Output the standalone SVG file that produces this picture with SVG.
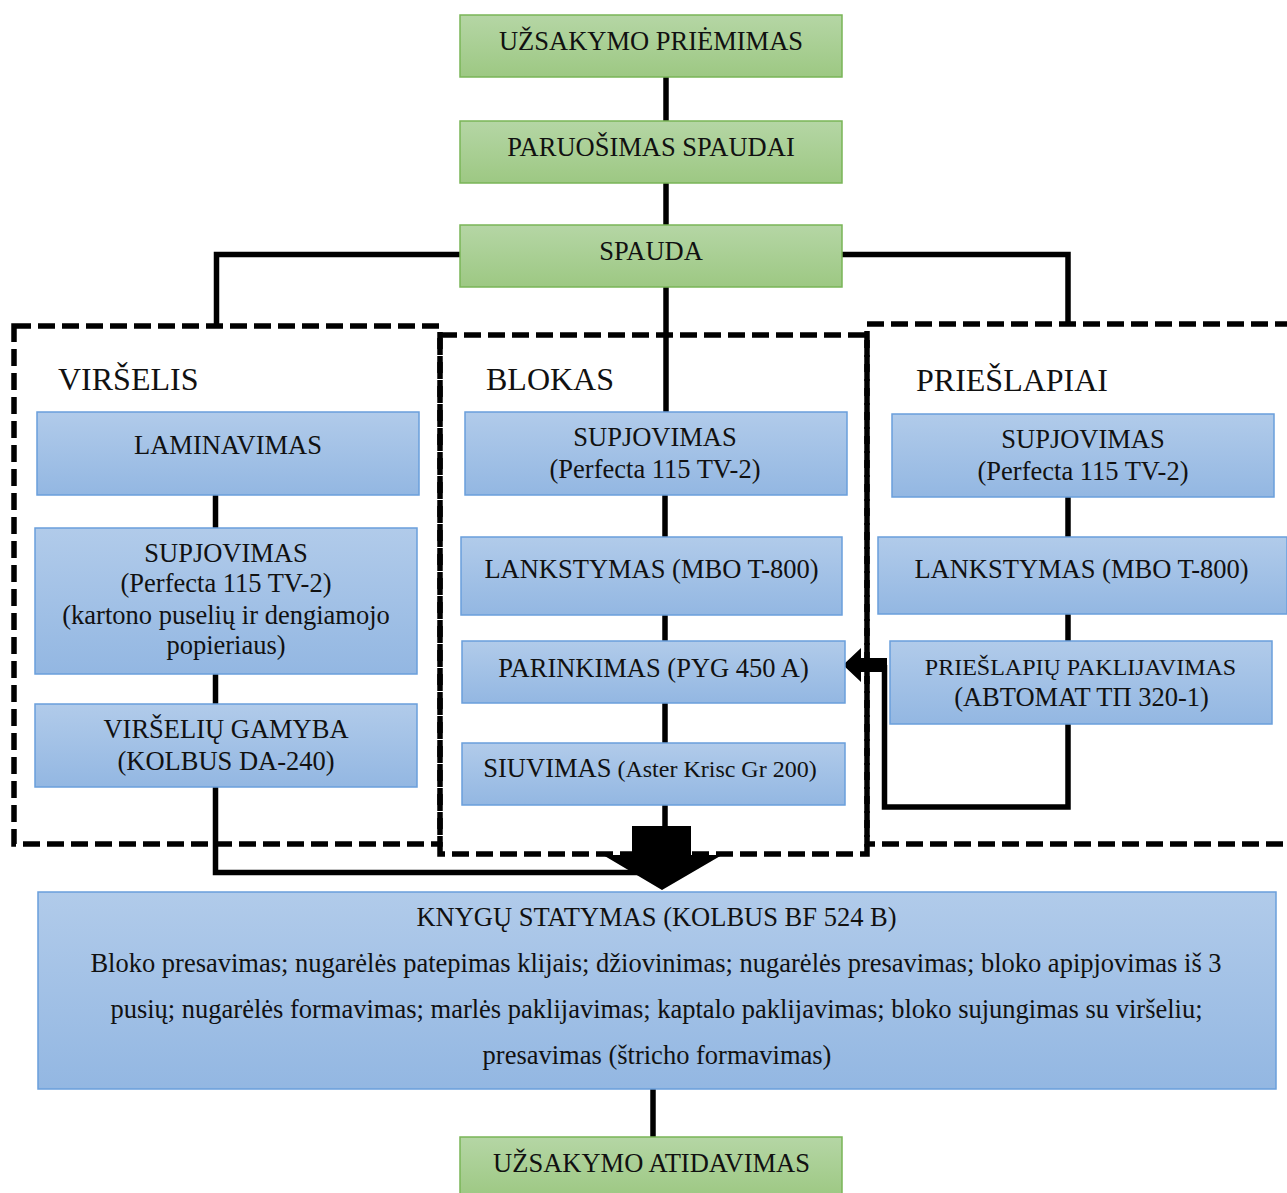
<svg xmlns="http://www.w3.org/2000/svg" width="1287" height="1193" viewBox="0 0 1287 1193">
<defs>
<linearGradient id="gGreen" x1="0" y1="0" x2="0" y2="1">
<stop offset="0" stop-color="#b5d6a5"/>
<stop offset="1" stop-color="#9dc883"/>
</linearGradient>
<linearGradient id="gBlue" x1="0" y1="0" x2="0" y2="1">
<stop offset="0" stop-color="#b1cbea"/>
<stop offset="1" stop-color="#93b7e2"/>
</linearGradient>
<style>
.green{fill:url(#gGreen);stroke:#79b557;stroke-width:1.5}
.blue{fill:url(#gBlue);stroke:#6a9fdb;stroke-width:1.5}
.dash{fill:none;stroke:#000;stroke-width:5.5;stroke-dasharray:17 7}
.conn{fill:none;stroke:#000;stroke-width:5.5;stroke-linejoin:miter}
.arrow{fill:#000;stroke:none}
text{font-family:"Liberation Serif","Times New Roman",serif;font-size:26.5px;fill:#111;text-anchor:middle}
.title{text-anchor:start;font-size:32px}
.sm{font-size:24px}
</style>
</defs>

<g id="groups">
<rect id="grp-virselis" class="dash" x="14" y="326" width="426" height="518"/>
<rect id="grp-blokas" class="dash" x="440" y="335" width="427" height="519"/>
<rect id="grp-prieslapiai" class="dash" x="867" y="324" width="440" height="520"/>
</g>

<g id="connectors">
<line class="conn" x1="666" y1="77" x2="666" y2="121"/>
<line class="conn" x1="666" y1="183" x2="666" y2="225"/>
<line class="conn" x1="666" y1="287" x2="666" y2="412"/>
<polyline class="conn" points="460,254.5 216.5,254.5 216.5,326"/>
<polyline class="conn" points="842,254.5 1068,254.5 1068,324"/>
<line class="conn" x1="215.5" y1="495" x2="215.5" y2="528"/>
<line class="conn" x1="215.5" y1="674" x2="215.5" y2="704"/>
<polyline class="conn" points="215.5,787 215.5,872.5 640,872.5"/>
<line class="conn" x1="665" y1="495" x2="665" y2="537"/>
<line class="conn" x1="665" y1="615" x2="665" y2="641"/>
<line class="conn" x1="665" y1="703" x2="665" y2="743"/>
<line class="conn" x1="665" y1="805" x2="665" y2="828"/>
<line class="conn" x1="1068" y1="497" x2="1068" y2="537"/>
<line class="conn" x1="1068" y1="614" x2="1068" y2="641"/>
<polyline class="conn" points="1068,724 1068,807 884.5,807 884.5,665"/>
<polygon class="arrow" points="843,665 861,648 861,658 887,658 887,672 861,672 861,682"/>
<polygon class="arrow" points="632,826 691,826 691,855 722,855 662,890 603,855 632,855"/>
<line class="conn" x1="653" y1="1089" x2="653" y2="1137"/>
</g>

<g id="n-priemimas">
<rect class="green" x="460" y="15" width="382" height="62"/>
<text x="651" y="50">UŽSAKYMO PRIĖMIMAS</text>
</g>
<g id="n-paruosimas">
<rect class="green" x="460" y="121" width="382" height="62"/>
<text x="651" y="156">PARUOŠIMAS SPAUDAI</text>
</g>
<g id="n-spauda">
<rect class="green" x="460" y="225" width="382" height="62"/>
<text x="651" y="260">SPAUDA</text>
</g>

<g id="t-virselis"><text class="title" x="58" y="390">VIRŠELIS</text></g>
<g id="t-blokas"><text class="title" x="486" y="390">BLOKAS</text></g>
<g id="t-prieslapiai"><text class="title" x="916" y="391">PRIEŠLAPIAI</text></g>

<g id="n-laminavimas">
<rect class="blue" x="37" y="412" width="382" height="83"/>
<text x="228" y="454">LAMINAVIMAS</text>
</g>
<g id="n-v-supjovimas">
<rect class="blue" x="35" y="528" width="382" height="146"/>
<text x="226" y="562">SUPJOVIMAS</text>
<text x="226" y="592">(Perfecta 115 TV-2)</text>
<text x="226" y="624">(kartono puselių ir dengiamojo</text>
<text x="226" y="654">popieriaus)</text>
</g>
<g id="n-virseliu-gamyba">
<rect class="blue" x="35" y="704" width="382" height="83"/>
<text x="226" y="738">VIRŠELIŲ GAMYBA</text>
<text x="226" y="770">(KOLBUS DA-240)</text>
</g>

<g id="n-b-supjovimas">
<rect class="blue" x="465" y="412" width="382" height="83"/>
<text x="655" y="446">SUPJOVIMAS</text>
<text x="655" y="478">(Perfecta 115 TV-2)</text>
</g>
<g id="n-b-lankstymas">
<rect class="blue" x="461" y="537" width="381" height="78"/>
<text x="651.5" y="578">LANKSTYMAS (MBO T-800)</text>
</g>
<g id="n-parinkimas">
<rect class="blue" x="462" y="641" width="383" height="62"/>
<text x="653.5" y="677">PARINKIMAS (PYG 450 A)</text>
</g>
<g id="n-siuvimas">
<rect class="blue" x="462" y="743" width="383" height="62"/>
<text x="650" y="777">SIUVIMAS<tspan class="sm"> (Aster Krisc Gr 200)</tspan></text>
</g>

<g id="n-p-supjovimas">
<rect class="blue" x="892" y="414" width="382" height="83"/>
<text x="1083" y="448">SUPJOVIMAS</text>
<text x="1083" y="480">(Perfecta 115 TV-2)</text>
</g>
<g id="n-p-lankstymas">
<rect class="blue" x="878" y="537" width="409" height="77"/>
<text x="1081.5" y="578">LANKSTYMAS (MBO T-800)</text>
</g>
<g id="n-paklijavimas">
<rect class="blue" x="890" y="641" width="382" height="83"/>
<text class="sm" x="1080.5" y="675">PRIEŠLAPIŲ PAKLIJAVIMAS</text>
<text x="1081.5" y="706">(ABTOMAT TП 320-1)</text>
</g>

<g id="n-knygu-statymas">
<rect class="blue" x="38" y="892" width="1238" height="197"/>
<text x="656.5" y="926">KNYGŲ STATYMAS (KOLBUS BF 524 B)</text>
<text x="656" y="972">Bloko presavimas; nugarėlės patepimas klijais; džiovinimas; nugarėlės presavimas; bloko apipjovimas iš 3</text>
<text x="656.5" y="1018">pusių; nugarėlės formavimas; marlės paklijavimas; kaptalo paklijavimas; bloko sujungimas su viršeliu;</text>
<text x="657" y="1064">presavimas (štricho formavimas)</text>
</g>

<g id="n-atidavimas">
<rect class="green" x="460" y="1137" width="382" height="60"/>
<text x="651.5" y="1172">UŽSAKYMO ATIDAVIMAS</text>
</g>
</svg>
